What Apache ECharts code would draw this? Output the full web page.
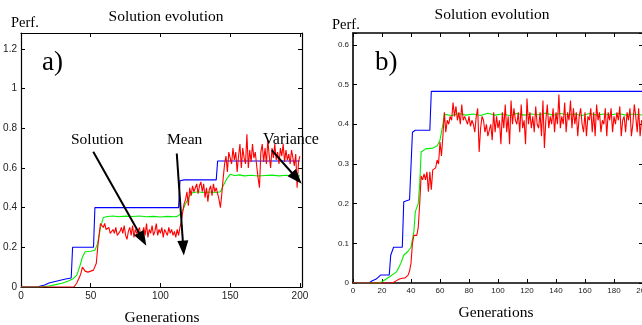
<!DOCTYPE html>
<html>
<head>
<meta charset="utf-8">
<script src="https://cdn.jsdelivr.net/npm/echarts@6/dist/echarts.min.js"></script>
<style>
  html, body { margin: 0; padding: 0; background: #fff; }
  #chart { width: 642px; height: 325px; }
</style>
</head>
<body>
<div id="chart"></div>
<script>
// panel a) best solution (step curve, [generation, perf])
const blueA = [[0,0],[12,0],[14,0.005],[17,0.01],[20,0.02],[23,0.025],[26,0.03],[29,0.035],[32,0.04],[36,0.045],
  [37,0.2],[52,0.2],[53,0.4],[113,0.4],[114,0.535],[117,0.54],[140,0.54],[141,0.635],[200,0.635]];
// panel a) mean
const greenA = [[0,0],[14,0],[20,0.005],[25,0.012],[30,0.02],[34,0.03],[37,0.04],[40,0.06],[42,0.1],[44,0.15],[46,0.178],
  [50,0.18],[53,0.185],[55,0.22],[57,0.3],[59,0.35],[62,0.355],[66,0.358],[70,0.354],[75,0.357],[80,0.355],[85,0.358],
  [90,0.354],[95,0.356],[100,0.353],[105,0.356],[110,0.354],[112,0.356],[115,0.37],[118,0.42],[121,0.46],[123,0.475],
  [127,0.48],[130,0.476],[135,0.479],[140,0.476],[143,0.48],[145,0.51],[148,0.55],[150,0.568],[153,0.562],[157,0.565],
  [160,0.56],[165,0.563],[170,0.559],[175,0.562],[180,0.564],[185,0.56],[190,0.563],[195,0.56],[200,0.56]];
// panel a) per generation 0..200
const redA = [
  0,0,0,0,0,0,0,0,0,0,
  0,0,0,0,0,0,0,0,0,0,
  0,0,0,0,0,0,0,0,0,0,
  0,0,0,0,0,0,0,0,0,0.01,
  0.02,0.035,0.05,0.07,0.1,0.105,0.08,0.07,0.075,0.07,
  0.08,0.075,0.085,0.09,0.12,0.2,0.26,0.32,0.31,0.3,
  0.32,0.29,0.28,0.3,0.27,0.26,0.29,0.27,0.3,0.26,
  0.25,0.28,0.3,0.27,0.31,0.26,0.24,0.28,0.3,0.26,
  0.31,0.25,0.29,0.27,0.26,0.3,0.24,0.27,0.3,0.26,
  0.32,0.25,0.29,0.27,0.31,0.26,0.28,0.32,0.26,0.29,
  0.27,0.3,0.25,0.29,0.28,0.26,0.3,0.27,0.29,0.26,
  0.28,0.25,0.29,0.26,0.3,0.33,0.38,0.42,0.44,0.48,
  0.41,0.5,0.46,0.51,0.48,0.5,0.52,0.47,0.51,0.53,
  0.48,0.52,0.45,0.5,0.43,0.49,0.51,0.46,0.52,0.48,
  0.5,0.47,0.44,0.4,0.47,0.55,0.62,0.66,0.58,0.68,
  0.69,0.62,0.7,0.64,0.68,0.58,0.66,0.72,0.6,0.7,
  0.65,0.62,0.77,0.6,0.69,0.63,0.72,0.65,0.68,0.61,
  0.55,0.5,0.68,0.72,0.63,0.7,0.62,0.74,0.66,0.6,
  0.7,0.65,0.72,0.64,0.68,0.62,0.7,0.66,0.72,0.63,
  0.69,0.64,0.67,0.62,0.69,0.65,0.61,0.67,0.5,0.63,
  0.66];

// panel b)
const blueB = [[0,0],[11,0],[13,0.005],[16,0.01],[19,0.02],[25,0.02],[26,0.07],[27,0.075],[28,0.09],[34,0.09],
  [35,0.205],[39,0.21],[40,0.21],[41,0.38],[43,0.385],[53,0.385],[54,0.483],[200,0.483]];
const greenB = [[0,0],[18,0],[20,0.003],[25,0.015],[30,0.028],[33,0.05],[35,0.07],[38,0.08],[40,0.09],[42,0.13],
  [43,0.18],[45,0.2],[46,0.25],[47,0.33],[50,0.338],[55,0.34],[58,0.345],[60,0.36],[62,0.4],[63,0.425],[68,0.422],
  [73,0.427],[78,0.423],[83,0.426],[88,0.422],[93,0.428],[98,0.423],[103,0.426],[108,0.422],[113,0.427],[118,0.423],
  [123,0.426],[128,0.424],[133,0.428],[138,0.423],[143,0.427],[148,0.424],[153,0.426],[158,0.422],[163,0.427],
  [168,0.423],[173,0.426],[178,0.424],[183,0.427],[188,0.423],[193,0.426],[200,0.423]];
const redB = [
  0,0,0,0,0,0,0,0,0,0,
  0,0,0,0,0,0,0,0,0,0,
  0,0,0,0,0,0,0,0,0.002,0.004,
  0.006,0.008,0.01,0.011,0.012,0.012,0.013,0.015,0.02,0.03,
  0.05,0.1,0.12,0.115,0.12,0.14,0.2,0.27,0.26,0.275,
  0.26,0.28,0.23,0.28,0.235,0.285,0.28,0.29,0.31,0.3,
  0.355,0.32,0.37,0.43,0.38,0.41,0.4,0.42,0.41,0.455,
  0.42,0.445,0.41,0.43,0.4,0.45,0.41,0.42,0.41,0.4,
  0.42,0.395,0.41,0.4,0.38,0.42,0.44,0.33,0.39,0.42,
  0.41,0.38,0.4,0.37,0.375,0.4,0.36,0.43,0.38,0.42,
  0.39,0.41,0.35,0.43,0.39,0.45,0.38,0.42,0.35,0.46,
  0.4,0.44,0.41,0.4,0.43,0.38,0.45,0.39,0.41,0.35,
  0.465,0.4,0.43,0.39,0.42,0.38,0.445,0.4,0.39,0.43,
  0.37,0.46,0.34,0.41,0.45,0.39,0.42,0.4,0.44,0.38,
  0.43,0.4,0.475,0.39,0.42,0.4,0.455,0.38,0.43,0.41,
  0.46,0.39,0.44,0.4,0.43,0.37,0.42,0.44,0.4,0.38,
  0.43,0.37,0.42,0.41,0.44,0.38,0.43,0.37,0.45,0.41,
  0.43,0.38,0.41,0.4,0.44,0.37,0.43,0.41,0.44,0.38,
  0.42,0.4,0.43,0.41,0.445,0.37,0.41,0.42,0.38,0.43,
  0.41,0.44,0.37,0.4,0.45,0.42,0.38,0.44,0.37,0.41,
  0.40];

// arrows in panel a): [from, to] in data coords
const arrowsA = [
  [[51.8, 0.681], [87.2, 0.241]],
  [[111.7, 0.673], [116.4, 0.196]],
  [[179.8, 0.69], [197.7, 0.548]]
];

const serif = '"Liberation Serif", "DejaVu Serif", serif';
const sans = '"Liberation Sans", Arial, sans-serif';

function onMultiple(v, step) {
  const r = v / step;
  return Math.abs(r - Math.round(r)) < 1e-6;
}

function axisBase(grid, max, interval, lw) {
  return {
    gridIndex: grid, type: 'value', min: 0, max: max, interval: interval,
    splitLine: { show: false },
    axisLine: { show: true, onZero: false, lineStyle: { color: '#000', width: lw } },
    axisTick: { show: true, inside: true, length: 4, lineStyle: { color: '#000', width: 1 } }
  };
}

function xAxes(grid, max, interval, fontSize, lw) {
  return [
    Object.assign(axisBase(grid, max, interval, lw), {
      position: 'bottom',
      axisLabel: {
        color: '#222', fontFamily: sans, fontSize: fontSize, margin: 4,
        formatter: (v) => onMultiple(v, interval) ? String(v) : ''
      }
    }),
    Object.assign(axisBase(grid, max, interval, lw), { position: 'top', axisLabel: { show: false } })
  ];
}

function yAxes(grid, max, interval, fontSize, lw) {
  return [
    Object.assign(axisBase(grid, max, interval, lw), {
      position: 'left',
      axisLabel: {
        color: '#222', fontFamily: sans, fontSize: fontSize, margin: 4,
        formatter: (v) => onMultiple(v, interval) ? String(+v.toFixed(2)) : ''
      }
    }),
    Object.assign(axisBase(grid, max, interval, lw), { position: 'right', axisLabel: { show: false } })
  ];
}

function line(name, data, color, xi, yi, z) {
  return {
    name: name, type: 'line', xAxisIndex: xi, yAxisIndex: yi, data: data,
    showSymbol: false, z: z,
    lineStyle: { color: color, width: 1.1 }
  };
}

function label(text, x, y, size, align) {
  return {
    type: 'text', x: x, y: y, z: 100,
    style: { text: text, font: size + 'px ' + serif, fill: '#000', textAlign: align || 'left', textVerticalAlign: 'middle' }
  };
}

const chart = echarts.init(document.getElementById('chart'));
const option = {
  animation: false,
  grid: [
    { left: 21, top: 33, width: 281, height: 254, outerBoundsMode: 'none' },
    { left: 353, top: 33, width: 290, height: 250, outerBoundsMode: 'none' }
  ],
  xAxis: xAxes(0, 201.5, 50, 10, 1.2).concat(xAxes(1, 200, 20, 8, 1.6)),
  yAxis: yAxes(0, 1.28, 0.2, 10, 1.2).concat(yAxes(1, 0.63, 0.1, 8, 1.6)),
  series: [
    line('Best', blueA, '#0000ff', 0, 0, 2),
    line('Mean', greenA, '#00ee00', 0, 0, 3),
    Object.assign(line('Variance', redA.map((v, i) => [i, v]), '#ff0000', 0, 0, 4), {
      markLine: {
        silent: true,
        symbol: ['none', 'triangle'],
        symbolSize: [11, 15],
        label: { show: false },
        lineStyle: { color: '#000', width: 2, type: 'solid' },
        data: arrowsA.map((a) => [{ coord: a[0] }, { coord: a[1] }])
      }
    }),
    line('Best', blueB, '#0000ff', 2, 2, 2),
    line('Mean', greenB, '#00ee00', 2, 2, 3),
    line('Variance', redB.map((v, i) => [i, v]), '#ff0000', 2, 2, 4)
  ],
  graphic: [
    label('Solution evolution', 166, 17, 15.5, 'center'),
    label('Perf.', 11, 23, 14.5),
    label('a)', 42, 63, 27),
    label('Generations', 162, 318, 15.5, 'center'),
    label('Solution', 71, 140, 15.5),
    label('Mean', 167, 140, 15.5),
    label('Variance', 263, 140, 16),
    label('Solution evolution', 492, 15, 15.5, 'center'),
    label('Perf.', 332, 25, 14.5),
    label('b)', 375, 63, 27),
    label('Generations', 496, 313, 15.5, 'center')
  ]
};
chart.setOption(option);
</script>
</body>
</html>
